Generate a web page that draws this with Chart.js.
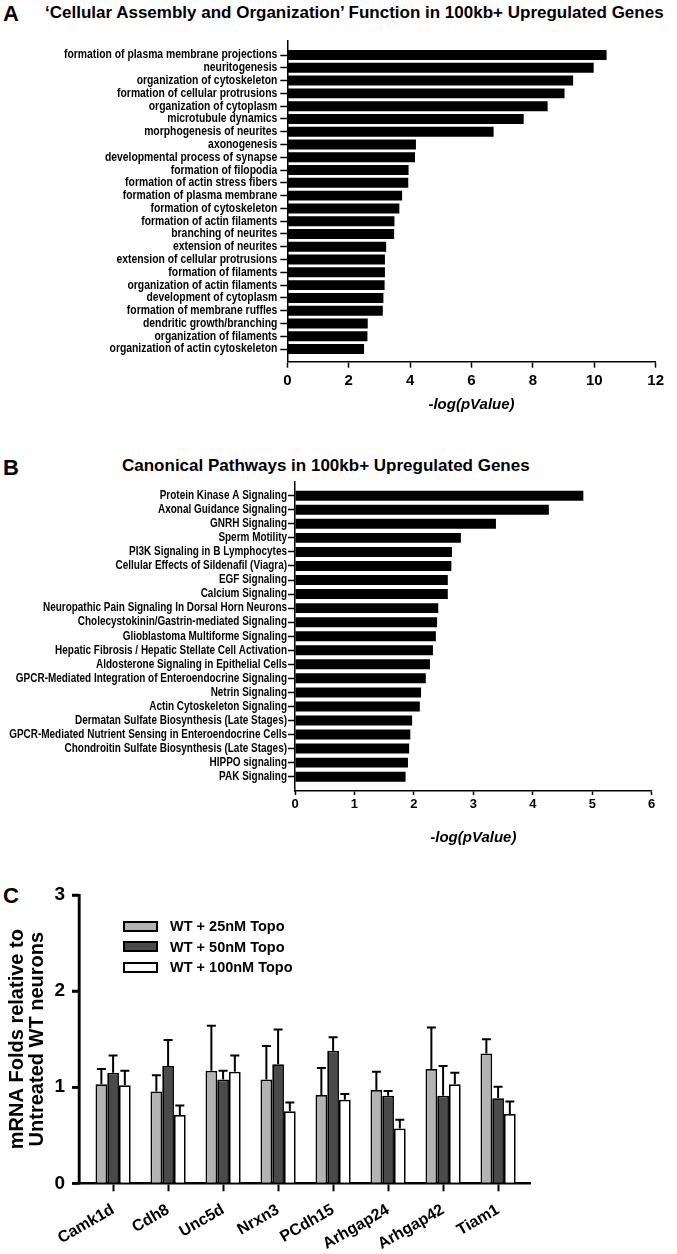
<!DOCTYPE html>
<html>
<head>
<meta charset="utf-8">
<script src="https://cdn.jsdelivr.net/npm/chart.js@4.4.1/dist/chart.umd.min.js"></script>
<style>
body{margin:0;background:#fff;width:677px;height:1254px;position:relative;overflow:hidden;font-family:'Liberation Sans',Arial,sans-serif;color:#000}
.chart{position:absolute;left:0;width:677px}
.letter{position:absolute;left:3px;font-weight:bold;font-size:22px;line-height:22px}
.title{position:absolute;font-weight:bold;font-size:17px;line-height:20px;white-space:nowrap}
.legend{position:absolute;left:123px;top:916px;font-weight:bold;font-size:14.5px}
.legend div{height:20.5px;display:flex;align-items:center}
.legend span{display:inline-block;width:31px;height:7px;border:2px solid #000;margin-right:12px}
</style>
</head>
<body>

<div class="letter" style="top:3px">A</div>
<div class="title" style="left:45px;top:3px">‘Cellular Assembly and Organization’ Function in 100kb+ Upregulated Genes</div>
<div class="chart" style="top:30px;height:384px"><canvas id="chartA"></canvas></div>

<div class="letter" style="top:457px">B</div>
<div class="title" style="left:122px;top:456px">Canonical Pathways in 100kb+ Upregulated Genes</div>
<div class="chart" style="top:470px;height:377px"><canvas id="chartB"></canvas></div>

<div class="letter" style="top:885px">C</div>
<div class="chart" style="top:870px;height:384px"><canvas id="chartC"></canvas></div>
<div class="legend" id="legendC"></div>

<script>
// ---------- Data ----------

const functionsA = [
    "formation of plasma membrane projections", "neuritogenesis", "organization of cytoskeleton",
    "formation of cellular protrusions", "organization of cytoplasm", "microtubule dynamics",
    "morphogenesis of neurites", "axonogenesis", "developmental process of synapse",
    "formation of filopodia", "formation of actin stress fibers", "formation of plasma membrane",
    "formation of cytoskeleton", "formation of actin filaments", "branching of neurites",
    "extension of neurites", "extension of cellular protrusions", "formation of filaments",
    "organization of actin filaments", "development of cytoplasm", "formation of membrane ruffles",
    "dendritic growth/branching", "organization of filaments", "organization of actin cytoskeleton"
];
const valuesA = [10.40, 9.98, 9.31, 9.03, 8.48, 7.70, 6.72, 4.19, 4.16, 3.95, 3.94, 3.74,
    3.65, 3.49, 3.48, 3.22, 3.18, 3.18, 3.17, 3.13, 3.11, 2.62, 2.61, 2.50];

const pathwaysB = [
    "Protein Kinase A Signaling", "Axonal Guidance Signaling", "GNRH Signaling", "Sperm Motility",
    "PI3K Signaling in B Lymphocytes", "Cellular Effects of Sildenafil (Viagra)", "EGF Signaling",
    "Calcium Signaling", "Neuropathic Pain Signaling In Dorsal Horn Neurons",
    "Cholecystokinin/Gastrin-mediated Signaling", "Glioblastoma Multiforme Signaling",
    "Hepatic Fibrosis / Hepatic Stellate Cell Activation", "Aldosterone Signaling in Epithelial Cells",
    "GPCR-Mediated Integration of Enteroendocrine Signaling", "Netrin Signaling",
    "Actin Cytoskeleton Signaling", "Dermatan Sulfate Biosynthesis (Late Stages)",
    "GPCR-Mediated Nutrient Sensing in Enteroendocrine Cells",
    "Chondroitin Sulfate Biosynthesis (Late Stages)", "HIPPO signaling", "PAK Signaling"
];
const valuesB = [4.85, 4.27, 3.38, 2.79, 2.64, 2.63, 2.57, 2.57, 2.41, 2.39, 2.37, 2.32, 2.27,
    2.20, 2.12, 2.10, 1.97, 1.94, 1.92, 1.90, 1.86];

const genes = ["Camk1d", "Cdh8", "Unc5d", "Nrxn3", "PCdh15", "Arhgap24", "Arhgap42", "Tiam1"];
const groups = ["WT + 25nM Topo", "WT + 50nM Topo", "WT + 100nM Topo"];
const topo25  = [1.03, 0.955, 1.17, 1.08, 0.92, 0.97, 1.19, 1.35];
const topo50  = [1.15, 1.22, 1.08, 1.24, 1.38, 0.91, 0.91, 0.885];
const topo100 = [1.02, 0.71, 1.16, 0.75, 0.87, 0.57, 1.03, 0.72];
const sem25  = [0.16, 0.17, 0.47, 0.35, 0.28, 0.19, 0.43, 0.15];
const sem50  = [0.18, 0.27, 0.09, 0.36, 0.14, 0.05, 0.31, 0.12];
const sem100 = [0.15, 0.10, 0.17, 0.09, 0.06, 0.09, 0.12, 0.13];
const colors = ["#b3b3b3", "#4a4a4a", "#ffffff"];

// ---------- Common ----------

Chart.defaults.font.family = "'Liberation Sans', Arial, sans-serif";
Chart.defaults.color = "#000";
Chart.defaults.animation = false;

// no narrow font installed: draw the category labels squeezed, at the y scale's tick pixels
const narrowLabels = {
    id:"narrowLabels",
    afterDraw(chart, args, o){
        const s = chart.scales.y;
        const ctx = chart.ctx;
        ctx.save();
        ctx.font = "bold " + o.size + "px 'Liberation Sans', Arial, sans-serif";
        ctx.fillStyle = "#000";
        ctx.textAlign = "right";
        ctx.textBaseline = "middle";
        s.ticks.forEach((t, i) => {
            ctx.save();
            ctx.translate(s.right - o.gap, s.getPixelForTick(i));
            ctx.scale(o.squeeze, 1);
            ctx.fillText(o.names[t.value], 0, 0);
            ctx.restore();
        });
        ctx.restore();
    }
};

// horizontal black bars, categories on a linear index axis so the axis can run past the bars
function barsHorizontal(id, names, values, o){
    return new Chart(document.getElementById(id), {
        type:"bar",
        data:{
            datasets:[{
                data:values.map((v, i) => ({x:v, y:i})),
                backgroundColor:"#000",
                categoryPercentage:1,
                barPercentage:o.bar
            }]
        },
        options:{
            indexAxis:"y",
            responsive:true,
            maintainAspectRatio:false,
            layout:{padding:{top:o.top, right:o.right, left:0, bottom:0}},
            plugins:{
                legend:{display:false},
                tooltip:{enabled:false},
                narrowLabels:{names:names, size:o.labelSize, squeeze:0.83, gap:o.gap}
            },
            scales:{
                x:{
                    min:0, max:o.xmax,
                    ticks:{stepSize:o.step, padding:o.tickPad, font:{size:o.tickSize, weight:"bold"}},
                    grid:{drawOnChartArea:false, tickLength:o.tickLen, color:"#000", tickWidth:1.5},
                    border:{color:"#000", width:1.5},
                    title:{display:true, text:"-log(pValue)", padding:0,
                        font:{size:15, weight:"bold", style:"italic"}},
                    afterFit:s => { s.height = o.xh; }
                },
                y:{
                    type:"linear", reverse:true, offset:false, min:o.ymin, max:o.ymax,
                    afterBuildTicks:s => { s.ticks = names.map((n, i) => ({value:i})); },
                    ticks:{display:false},
                    grid:{drawOnChartArea:false, offset:false, tickLength:7, color:"#000", tickWidth:1.5},
                    border:{color:"#000", width:1.5},
                    afterFit:s => { s.width = o.yw; }
                }
            }
        },
        plugins:[narrowLabels]
    });
}

// ---------- A ----------

barsHorizontal("chartA", functionsA, valuesA, {
    top:10.7, right:21.3, xmax:12, step:2, tickSize:15, tickPad:4, tickLen:6,
    xh:52.3, ymin:-1.12, ymax:23.99, labelSize:12.5, gap:10, yw:287.3, bar:0.78
});

// ---------- B ----------

barsHorizontal("chartB", pathwaysB, valuesB, {
    top:11.7, right:25.3, xmax:6, step:1, tickSize:13, tickPad:2, tickLen:4,
    xh:56, ymin:-1.0, ymax:21.02, labelSize:12, gap:8, yw:295, bar:0.71
});

// ---------- C ----------

// one-sided (upper) error bars, plus the y axis line and its tick marks on top
const errorBars = {
    id:"errorBars",
    afterDatasetsDraw(chart){
        const ctx = chart.ctx;
        const y = chart.scales.y;
        chart.data.datasets.forEach((ds, i) => {
            chart.getDatasetMeta(i).data.forEach((bar, j) => {
                const top = y.getPixelForValue(ds.data[j].y + ds.sem[j]);
                ctx.save();
                ctx.strokeStyle = "#000";
                ctx.lineWidth = 2;
                ctx.beginPath();
                ctx.moveTo(bar.x, bar.y);
                ctx.lineTo(bar.x, top);
                ctx.moveTo(bar.x - 4.5, top);
                ctx.lineTo(bar.x + 4.5, top);
                ctx.stroke();
                ctx.restore();
            });
        });
    },
    afterDraw(chart){
        const ctx = chart.ctx;
        const y = chart.scales.y;
        ctx.save();
        ctx.strokeStyle = "#000";
        ctx.lineWidth = 2.5;
        ctx.beginPath();
        ctx.moveTo(y.right, y.top - 1);
        ctx.lineTo(y.right, y.bottom + 1.25);
        y.ticks.forEach((t, i) => {
            const py = y.getPixelForTick(i);
            ctx.moveTo(y.right - 7, py);
            ctx.lineTo(y.right, py);
        });
        ctx.stroke();
        ctx.restore();
    }
};

const seriesC = [topo25, topo50, topo100];
const semC = [sem25, sem50, sem100];

new Chart(document.getElementById("chartC"), {
    type:"bar",
    data:{
        datasets:groups.map((g, k) => ({
            label:g,
            data:seriesC[k].map((v, i) => ({x:i, y:v})),
            sem:semC[k],
            backgroundColor:colors[k],
            borderColor:"#000",
            borderWidth:1.75,
            categoryPercentage:0.64,
            barPercentage:1
        }))
    },
    options:{
        responsive:true,
        maintainAspectRatio:false,
        layout:{padding:{top:25, right:147, left:0, bottom:0}},
        plugins:{legend:{display:false}, tooltip:{enabled:false}},
        scales:{
            x:{
                type:"linear", offset:false, min:-0.62, max:7.58,
                afterBuildTicks:s => { s.ticks = genes.map((n, i) => ({value:i})); },
                ticks:{autoSkip:false, minRotation:30, maxRotation:30, padding:9,
                    callback:v => genes[v], font:{size:16, weight:"bold"}},
                grid:{drawOnChartArea:false, offset:false, tickLength:8, color:"#000", tickWidth:2},
                border:{color:"#000", width:2.5},
                afterFit:s => { s.height = 70.7; }
            },
            y:{
                min:0, max:3,
                ticks:{stepSize:1, padding:7, font:{size:19, weight:"bold"}},
                grid:{drawOnChartArea:false, tickLength:7, color:"#000", tickWidth:2.5},
                border:{display:true, color:"#000", width:2.5},
                title:{display:true, text:["mRNA Folds relative to", "Untreated WT neurons"],
                    padding:{top:7, bottom:0}, font:{size:20, weight:"bold", lineHeight:1}},
                afterFit:s => { s.width = 79; }
            }
        }
    },
    plugins:[errorBars]
});

// legend
document.getElementById("legendC").innerHTML = groups.map((g, k) =>
    `<div><span style="background:${colors[k]}"></span>${g}</div>`).join("");
</script>
</body>
</html>
